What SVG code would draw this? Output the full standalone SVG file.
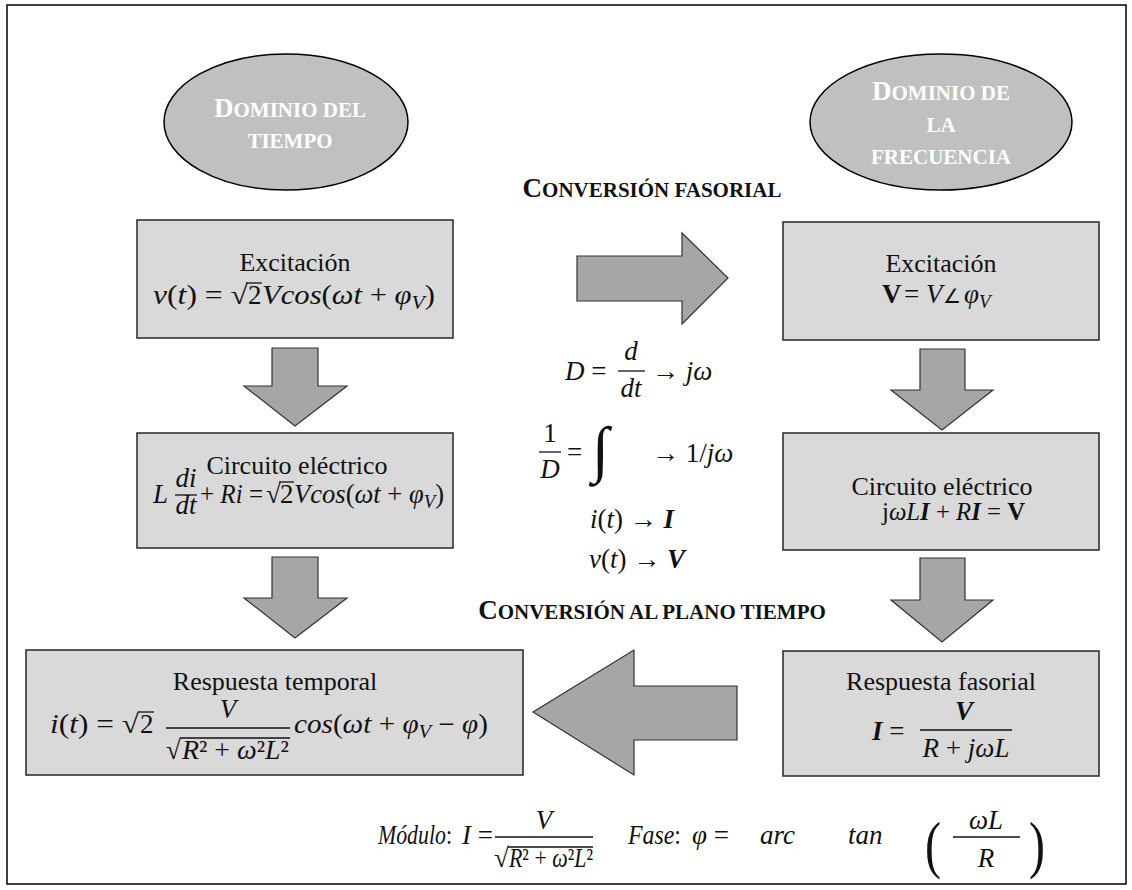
<svg xmlns="http://www.w3.org/2000/svg" width="1132" height="890" viewBox="0 0 1132 890">
<style>
.frame{fill:#fff;stroke:#000;stroke-width:1.5}
.ell{fill:#c0c0c0;stroke:#000;stroke-width:1.5}
.box{fill:#d9d9d9;stroke:#262626;stroke-width:1.5}
.arr{fill:#a6a6a6;stroke:#333;stroke-width:1.2}
.t{font-family:"Liberation Serif",serif;font-size:26px;fill:#111}
.m{font-family:"Liberation Serif","DejaVu Serif",serif;font-style:italic;font-size:27px;fill:#111}
.u{font-style:normal}
.b{font-weight:bold}
.i{font-style:italic}
.s{font-size:19px}
.sc{font-family:"Liberation Serif",serif;font-weight:bold;font-size:21px}
.big{font-size:27px}
.w{fill:#fff}
.k{fill:#111}
.ln{stroke:#111;stroke-width:1.3;fill:none}
</style>
<rect class="frame" x="7" y="5" width="1119" height="879"/>

<g id="connectors">
<polygon class="arr" points="272,348 318,348 318,386 347,386 295,426 244,386 272,386"/>
<polygon class="arr" points="272,557 318,557 318,598 347,598 295,638 244,598 272,598"/>
<polygon class="arr" points="920,349 965,349 965,390 993,390 942,430 891,390 920,390"/>
<polygon class="arr" points="920,558 965,558 965,600 993,600 942,642 891,600 920,600"/>
<polygon class="arr" points="577,256 682,256 682,233 728,278 682,324 682,301 577,301"/>
<polygon class="arr" points="737,686 634,686 634,650 533,712 634,775 634,740 737,740"/>
</g>

<g id="dominio-tiempo">
<ellipse class="ell" cx="286" cy="122" rx="122" ry="68"/>
<text class="sc w" text-anchor="middle" x="290" y="117"><tspan class="big">D</tspan>OMINIO DEL</text>
<text class="sc w" text-anchor="middle" x="290" y="148">TIEMPO</text>
</g>

<g id="dominio-frecuencia">
<ellipse class="ell" cx="941" cy="122" rx="131" ry="68"/>
<text class="sc w" text-anchor="middle" x="941" y="100"><tspan class="big">D</tspan>OMINIO DE</text>
<text class="sc w" text-anchor="middle" x="941" y="132">LA</text>
<text class="sc w" text-anchor="middle" x="941" y="164">FRECUENCIA</text>
</g>

<g id="label-fasorial">
<text class="sc k" text-anchor="middle" x="652" y="197"><tspan class="big">C</tspan>ONVERSIÓN FASORIAL</text>
</g>
<g id="label-tiempo">
<text class="sc k" text-anchor="middle" x="652" y="619"><tspan class="big">C</tspan>ONVERSIÓN AL PLANO TIEMPO</text>
</g>

<g id="excitacion-tiempo">
<rect class="box" x="137" y="220" width="316" height="118"/>
<text class="t" text-anchor="middle" x="295" y="271">Excitación</text>
<text class="m" x="153" y="304" textLength="95" lengthAdjust="spacingAndGlyphs">v<tspan class="u">(</tspan>t<tspan class="u">) = √</tspan></text>
<text class="m u" x="248" y="304">2</text>
<line class="ln" x1="246" y1="283" x2="262" y2="283"/>
<text class="m" x="262" y="304" textLength="173" lengthAdjust="spacingAndGlyphs">Vcos<tspan class="u">(</tspan>ωt <tspan class="u">+</tspan> φ<tspan class="s" dy="5">V</tspan><tspan class="u" dy="-5">)</tspan></text>
</g>

<g id="circuito-tiempo">
<rect class="box" x="137" y="433" width="316" height="115"/>
<text class="t" text-anchor="middle" x="297" y="474">Circuito eléctrico</text>
<text class="m" x="153" y="503">L</text>
<text class="m" text-anchor="middle" x="186" y="487">di</text>
<line class="ln" x1="175" y1="495" x2="197" y2="495"/>
<text class="m" text-anchor="middle" x="186" y="514">dt</text>
<text class="m" x="200" y="503" textLength="63" lengthAdjust="spacingAndGlyphs"><tspan class="u">+</tspan> Ri <tspan class="u">=</tspan></text>
<text class="m u" x="266" y="503">√</text>
<text class="m u" x="280" y="503">2</text>
<line class="ln" x1="279" y1="482" x2="294" y2="482"/>
<text class="m" x="294" y="503" textLength="150" lengthAdjust="spacingAndGlyphs">Vcos<tspan class="u">(</tspan>ωt <tspan class="u">+</tspan> φ<tspan class="s" dy="5">V</tspan><tspan class="u" dy="-5">)</tspan></text>
</g>

<g id="respuesta-temporal">
<rect class="box" x="26" y="650" width="497" height="125"/>
<text class="t" text-anchor="middle" x="275" y="690">Respuesta temporal</text>
<text class="m" x="50" y="733" textLength="89" lengthAdjust="spacingAndGlyphs">i<tspan class="u">(</tspan>t<tspan class="u">) = √</tspan></text>
<text class="m u" x="140" y="733">2</text>
<line class="ln" x1="138" y1="712" x2="154" y2="712"/>
<text class="m" text-anchor="middle" x="228" y="718">V</text>
<line class="ln" x1="166" y1="728" x2="290" y2="728"/>
<text class="m u" x="166" y="759">√</text>
<line class="ln" x1="180" y1="738" x2="290" y2="738"/>
<text class="m" x="182" y="759" textLength="107" lengthAdjust="spacingAndGlyphs">R<tspan class="u">²</tspan> <tspan class="u">+</tspan> ω<tspan class="u">²</tspan>L<tspan class="u">²</tspan></text>
<text class="m" x="294" y="733" textLength="194" lengthAdjust="spacingAndGlyphs">cos<tspan class="u">(</tspan>ωt <tspan class="u">+</tspan> φ<tspan class="s" dy="5">V</tspan><tspan class="u" dy="-5"> − </tspan>φ<tspan class="u">)</tspan></text>
</g>

<g id="excitacion-frecuencia">
<rect class="box" x="783" y="222" width="316" height="118"/>
<text class="t" text-anchor="middle" x="941" y="272">Excitación</text>
<text class="t" y="303" style="font-size:27px"><tspan class="b" x="882">V</tspan><tspan x="904">=</tspan><tspan class="i" x="926">V</tspan><tspan x="943" style="font-size:20px">∠</tspan><tspan class="i" x="964">φ</tspan><tspan class="i s" x="979" dy="5">V</tspan></text>
</g>

<g id="circuito-frecuencia">
<rect class="box" x="783" y="433" width="316" height="117"/>
<text class="t" text-anchor="middle" x="942" y="495">Circuito eléctrico</text>
<text class="t" x="882" y="520" textLength="143" lengthAdjust="spacingAndGlyphs">j<tspan class="i">ωL</tspan><tspan class="i b">I</tspan> + <tspan class="i">R</tspan><tspan class="i b">I</tspan> = <tspan class="b">V</tspan></text>
</g>

<g id="respuesta-fasorial">
<rect class="box" x="783" y="651" width="316" height="125"/>
<text class="t" text-anchor="middle" x="941" y="690">Respuesta fasorial</text>
<text class="t" x="872" y="740" style="font-size:27px"><tspan class="i b">I</tspan> =</text>
<text class="t i b" text-anchor="middle" x="964" y="720" style="font-size:27px">V</text>
<line class="ln" x1="920" y1="730" x2="1012" y2="730"/>
<text class="t" text-anchor="middle" x="966" y="757" style="font-size:27px"><tspan class="i">R</tspan> + <tspan class="i">jωL</tspan></text>
</g>

<g id="reglas">
<text class="m" x="565" y="380">D <tspan class="u">=</tspan></text>
<text class="m" text-anchor="middle" x="631" y="360">d</text>
<line class="ln" x1="618" y1="371" x2="645" y2="371"/>
<text class="m" text-anchor="middle" x="631" y="397">dt</text>
<text class="m" x="652" y="380"><tspan class="u">→</tspan> jω</text>

<text class="m u" text-anchor="middle" x="550" y="442">1</text>
<line class="ln" x1="539" y1="452" x2="561" y2="452"/>
<text class="m" text-anchor="middle" x="550" y="478">D</text>
<text class="m u" x="567" y="461">=</text>
<text class="m u" x="592" y="470" style="font-size:62px">∫</text>
<text class="m" x="652" y="462"><tspan class="u">→ 1/</tspan>jω</text>

<text class="m" x="590" y="528">i<tspan class="u">(</tspan>t<tspan class="u">) → </tspan><tspan class="b">I</tspan></text>
<text class="m" x="589" y="568">v<tspan class="u">(</tspan>t<tspan class="u">) → </tspan><tspan class="b">V</tspan></text>
</g>

<g id="modulo-fase">
<text class="m" x="378" y="844" textLength="74" lengthAdjust="spacingAndGlyphs">Módulo<tspan class="u">:</tspan></text>
<text class="m" x="462" y="844">I <tspan class="u">=</tspan></text>
<text class="m" text-anchor="middle" x="544" y="829">V</text>
<line class="ln" x1="495" y1="837" x2="593" y2="837"/>
<text class="m u" x="494" y="867">√</text>
<line class="ln" x1="508" y1="847" x2="593" y2="847"/>
<text class="m" x="509" y="867" textLength="84" lengthAdjust="spacingAndGlyphs">R<tspan class="u">²</tspan> <tspan class="u">+</tspan> ω<tspan class="u">²</tspan>L<tspan class="u">²</tspan></text>
<text class="m" x="628" y="844" textLength="53" lengthAdjust="spacingAndGlyphs">Fase<tspan class="u">:</tspan></text>
<text class="m" x="692" y="844">φ <tspan class="u">=</tspan></text>
<text class="m" x="760" y="844">arc</text>
<text class="m" x="848" y="844">tan</text>
<text class="m u" x="925" y="866" style="font-size:64px" transform="translate(925 0) scale(0.75 1) translate(-925 0)">(</text>
<text class="m" text-anchor="middle" x="986" y="829">ωL</text>
<line class="ln" x1="953" y1="837" x2="1020" y2="837"/>
<text class="m" text-anchor="middle" x="986" y="867">R</text>
<text class="m u" x="1029" y="866" style="font-size:64px" transform="translate(1029 0) scale(0.75 1) translate(-1029 0)">)</text>
</g>
</svg>
